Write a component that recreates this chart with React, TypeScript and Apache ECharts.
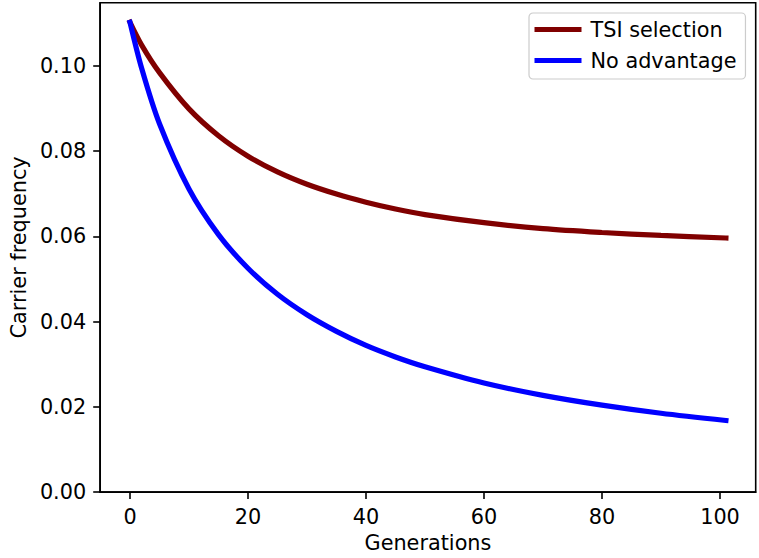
import React, { useEffect, useRef } from "react";
import * as echarts from "echarts";

const generations = [0, 2, 5, 10, 15, 20, 25, 30, 35, 40, 45, 50, 60, 70, 80, 90, 101];
const tsiSelection = [0.1102, 0.1048, 0.0984, 0.0899, 0.0836, 0.0788, 0.0751, 0.0722, 0.0699, 0.0680, 0.0664, 0.0651, 0.0632, 0.0618, 0.0609, 0.0602, 0.0596];
const noAdvantage = [0.1102, 0.0993, 0.0864, 0.0711, 0.0604, 0.0525, 0.0464, 0.0416, 0.0377, 0.0344, 0.0317, 0.0294, 0.0256, 0.0227, 0.0204, 0.0185, 0.0168];
const xTicks = [0, 20, 40, 60, 80, 100];
const yTicks = [0, 0.02, 0.04, 0.06, 0.08, 0.1];

const FONT = "DejaVu Sans";

export default function App() {
  const ref = useRef<HTMLDivElement>(null);
  useEffect(() => {
    document.body.style.margin = "0";
    if (!ref.current) return;
    const chart = echarts.init(ref.current, null, { renderer: "svg" });
    const axisCommon = {
      axisLine: { show: true, onZero: false, lineStyle: { color: "#000", width: 1.6 } },
      axisTick: { show: true, length: 7, lineStyle: { color: "#000", width: 1.6 } },
      splitLine: { show: false },
      nameTextStyle: { fontFamily: FONT, fontSize: 20.8, color: "#000", verticalAlign: "middle" },
    };
    chart.setOption({
      animation: false,
      backgroundColor: "#fff",
      textStyle: { fontFamily: FONT },
      grid: {
        left: 94,
        right: 3.3,
        top: 2.7,
        bottom: 62.5,
        show: true,
        borderColor: "#000",
        borderWidth: 1.6,
        backgroundColor: "transparent",
      },
      legend: {
        show: true,
        orient: "vertical",
        left: 529,
        top: 13,
        padding: [6, 9, 8, 5.5],
        itemGap: 10,
        itemWidth: 47,
        itemHeight: 5.2,
        itemGap: 10,
        icon: "rect",
        textStyle: { fontFamily: FONT, fontSize: 20.8, color: "#000", padding: [0, 0, 0, 4] },
        backgroundColor: "rgba(255,255,255,0.8)",
        borderColor: "#cccccc",
        borderWidth: 1.2,
        borderRadius: 4,
        data: ["TSI selection", "No advantage"],
      },
      xAxis: {
        type: "value",
        min: -5.05,
        max: 106.05,
        name: "Generations",
        nameLocation: "middle",
        nameGap: 50,
        ...axisCommon,
        axisTick: { ...axisCommon.axisTick, customValues: xTicks },
        axisLabel: {
          customValues: xTicks,
          margin: 14,
          fontFamily: FONT,
          fontSize: 20.8,
          color: "#000",
          formatter: (v: number) => String(v),
        },
      },
      yAxis: {
        type: "value",
        min: 0,
        max: 0.1148,
        name: "Carrier frequency",
        nameLocation: "middle",
        nameGap: 80,
        nameRotate: 90,
        ...axisCommon,
        axisTick: { ...axisCommon.axisTick, customValues: yTicks },
        axisLabel: {
          customValues: yTicks,
          margin: 14,
          fontFamily: FONT,
          fontSize: 20.8,
          color: "#000",
          formatter: (v: number) => v.toFixed(2),
        },
      },
      series: [
        {
          name: "TSI selection",
          type: "line",
          data: generations.map((g, i) => [g, tsiSelection[i]]),
          showSymbol: false,
          smooth: 0.3,
          color: "#800000",
          lineStyle: { color: "#800000", width: 5.2, cap: "square" },
        },
        {
          name: "No advantage",
          type: "line",
          data: generations.map((g, i) => [g, noAdvantage[i]]),
          showSymbol: false,
          smooth: 0.3,
          color: "#0000ff",
          lineStyle: { color: "#0000ff", width: 5.2, cap: "square" },
        },
      ],
    });
    return () => chart.dispose();
  }, []);
  return <div ref={ref} style={{ width: 759, height: 558 }} />;
}
